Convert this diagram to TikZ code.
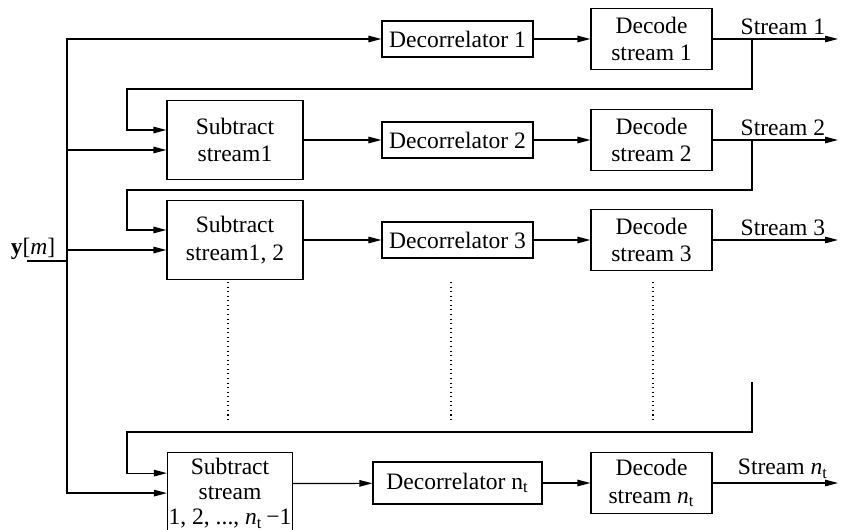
\documentclass[tikz,border=0pt]{standalone}
\usepackage{fontspec}
\setmainfont{Liberation Serif}
\usepackage{tikz}
\usetikzlibrary{positioning, arrows.meta}

\begin{document}
\begin{tikzpicture}[
    x=0.02cm, y=-0.02cm,
    line width=0.7pt,
    font=\fontsize{13.4}{15.8}\selectfont,
    blk/.style={draw, align=center, inner sep=1pt},
    subbox/.style={blk, minimum width=2.72cm, minimum height=1.58cm},
    decbox/.style={blk, minimum width=3.02cm, minimum height=0.72cm},
    dcdbox/.style={blk, minimum width=2.42cm, minimum height=1.22cm},
    arr/.style={-{Triangle[length=0.26cm, width=0.13cm]}},
    lbl/.style={above, pos=0.56, inner sep=2pt}]

\useasboundingbox (0,0) rectangle (844,530);

\pgfmathsetmacro{\xT}{67}
\pgfmathsetmacro{\xF}{127}
\pgfmathsetmacro{\xS}{235}
\pgfmathsetmacro{\xD}{457.5}
\pgfmathsetmacro{\xC}{651.5}
\pgfmathsetmacro{\xB}{752}
\pgfmathsetmacro{\xO}{838}

\pgfmathsetmacro{\yA}{39}
\pgfmathsetmacro{\yB}{140}
\pgfmathsetmacro{\yC}{240}
\pgfmathsetmacro{\yN}{483}

% Entrada y tronco
\coordinate (yin) at (27, 261);
\coordinate (tap) at (\xT, 261);
\node[anchor=base, inner sep=0pt] (ylab) at (33, 254) {\textbf{y}[\textit{m}]};

% Renglón 1: stream 1
\node[decbox] (dec1) at (\xD, \yA) {Decorrelator 1};
\node[dcdbox] (dcd1) at (\xC, \yA) {Decode\\stream 1};
\coordinate (o1) at (\xO, \yA);
\coordinate (b1) at (\xB, \yA);

% Renglón 2: stream 2
\node[subbox] (sub1) at (\xS, \yB) {Subtract\\stream1};
\node[decbox] (dec2) at (\xD, \yB) {Decorrelator 2};
\node[dcdbox] (dcd2) at (\xC, \yB) {Decode\\stream 2};
\coordinate (o2) at (\xO, \yB);
\coordinate (b2) at (\xB, \yB);

% Renglón 3: stream 3
\node[subbox] (sub2) at (\xS, \yC) {Subtract\\stream1, 2};
\node[decbox] (dec3) at (\xD, \yC) {Decorrelator 3};
\node[dcdbox] (dcd3) at (\xC, \yC) {Decode\\stream 3};
\coordinate (o3) at (\xO, \yC);

% Renglón n_t
\node[blk, inner xsep=0pt, minimum width=2.5cm, minimum height=1.62cm, anchor=north,
      font=\fontsize{13.4}{14.2}\selectfont] (subN) at (230, 452)
      {Subtract\\stream\\1, 2, ..., \textit{n}\textsubscript{t}\,−1};
\node[decbox, minimum width=3.38cm, minimum height=0.84cm] (decN) at (\xD, \yN) {Decorrelator n\textsubscript{t}};
\node[dcdbox] (dcdN) at (\xC, \yN) {Decode\\stream \textit{n}\textsubscript{t}};
\coordinate (oN) at (\xO, \yN);
\coordinate (bN) at (\xB, 382);

% puntos
\draw[dotted, line width=0.6pt] (228, 282) -- (228, 422);
\draw[dotted, line width=0.6pt] (451, 282) -- (451, 422);
\draw[dotted, line width=0.6pt] (653, 282) -- (653, 422);

% tronco
\draw (yin) -- (tap);
\draw[arr] (tap) |- (dec1);
\draw[arr] (tap) |- ([yshift=-0.2cm]sub1.west);
\draw[arr] (tap) |- ([yshift=-0.2cm]sub2.west);
\draw[arr] (tap) |- (subN.west);

% flechas horizontales
\draw[arr] (dec1) -- (dcd1);
\draw[arr] (dcd1) -- (o1) node[lbl] {Stream 1};
\draw[arr] (sub1) -- (dec2);
\draw[arr] (dec2) -- (dcd2);
\draw[arr] (dcd2) -- (o2) node[lbl] {Stream 2};
\draw[arr] (sub2) -- (dec3);
\draw[arr] (dec3) -- (dcd3);
\draw[arr] (dcd3) -- (o3) node[lbl] {Stream 3};
\draw[arr] ([yshift=0.19cm]subN.east) -- (decN);
\draw[arr] (decN) -- (dcdN);
\draw[arr] (dcdN) -- (oN) node[lbl] {Stream \textit{n}\textsubscript{t}};

% realimentación
\draw[arr] (b1) |- (\xF, 89) |- ([yshift=0.2cm]sub1.west);
\draw[arr] (b2) |- (\xF, 190) |- ([yshift=0.2cm]sub2.west);
\draw[arr] (bN) |- (\xF, 432) |- ([yshift=0.4cm]subN.west);

\end{tikzpicture}
\end{document}
